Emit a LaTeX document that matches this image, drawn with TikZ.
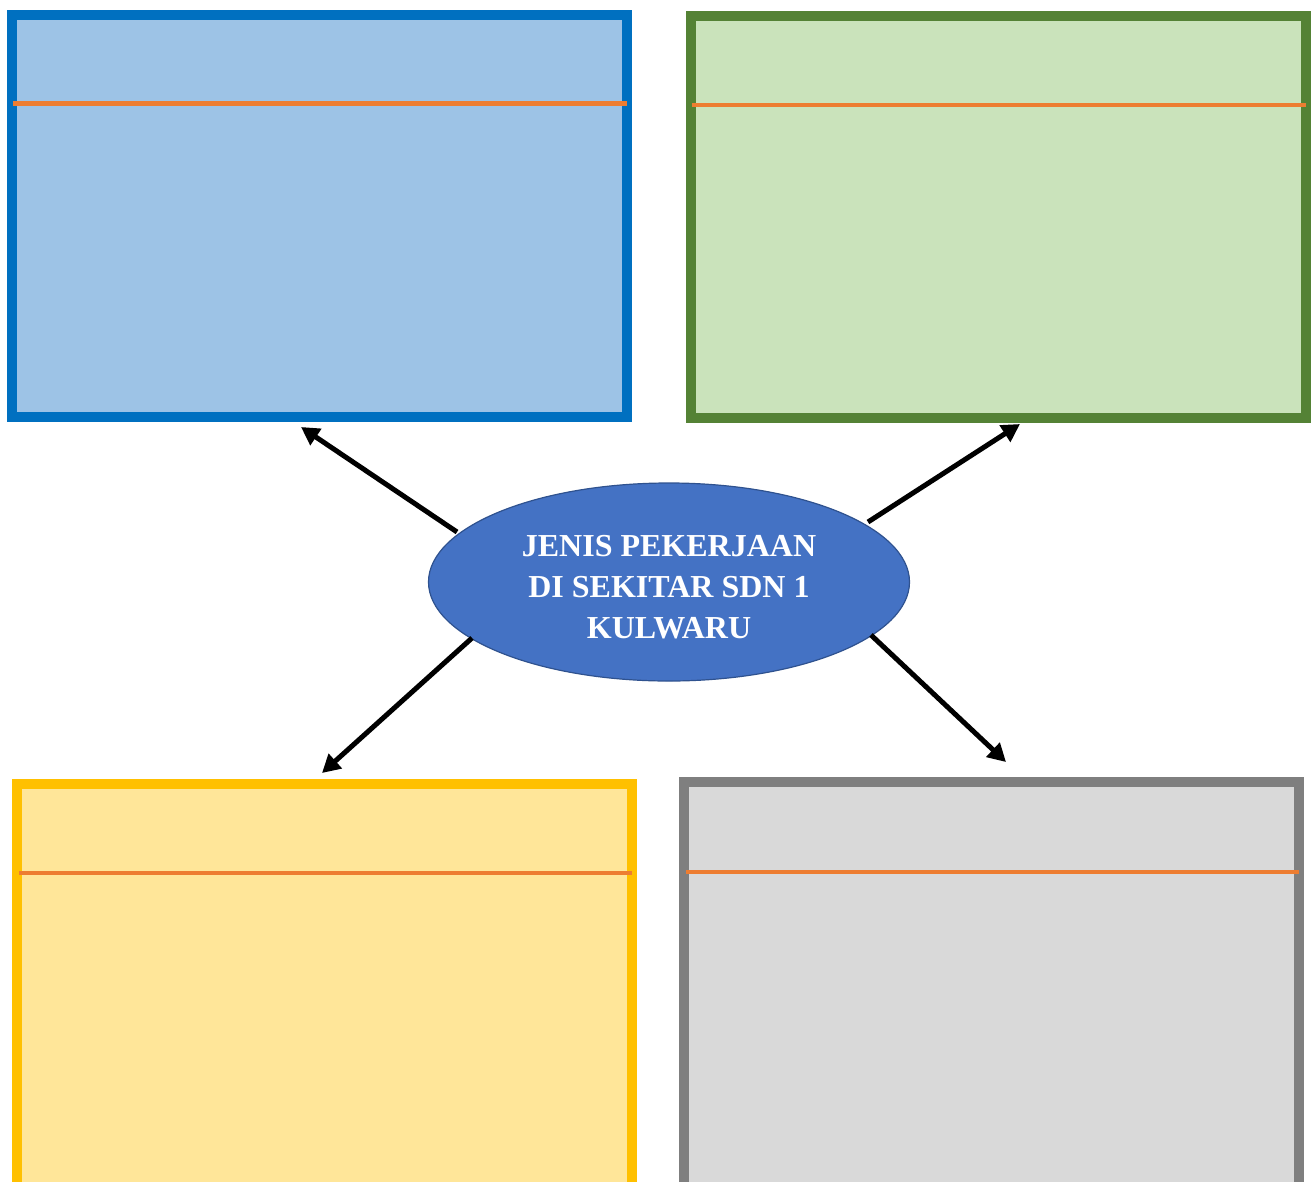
\documentclass[tikz,border=0pt]{standalone}
\usepackage{fontspec}
\setmainfont{Liberation Serif}
\usetikzlibrary{arrows.meta,shapes.geometric}
\definecolor{bluefill}{HTML}{9DC3E6}
\definecolor{blueline}{HTML}{0070C0}
\definecolor{greenfill}{HTML}{CAE3BB}
\definecolor{greenline}{HTML}{548235}
\definecolor{yellowfill}{HTML}{FFE699}
\definecolor{yellowline}{HTML}{FFC000}
\definecolor{grayfill}{HTML}{D9D9D9}
\definecolor{grayline}{HTML}{7F7F7F}
\definecolor{orangeline}{HTML}{ED7D31}
\definecolor{ellfill}{HTML}{4472C4}
\definecolor{ellline}{HTML}{2F528F}
\tikzset{
  panel/.style={line width=10pt},
  divider/.style={draw=orangeline, line width=4.5pt},
  link/.style={draw=black, line width=5pt, -{Triangle[length=18pt,width=19pt]}},
}
\begin{document}
\begin{tikzpicture}[x=1pt,y=-1pt]
\useasboundingbox (0,0) rectangle (1311,1181);
\clip (0,0) rectangle (1311,1181);
% top-left panel
\draw[panel, draw=blueline, fill=bluefill] (12,15) rectangle (627,417);
\coordinate (d1a) at (13,103.5); \coordinate (d1b) at (627,103.5);
\draw[divider] (d1a) -- (d1b);
% top-right panel
\draw[panel, draw=greenline, fill=greenfill] (691,16) rectangle (1306,418);
\coordinate (d2a) at (692,105); \coordinate (d2b) at (1306,105);
\draw[divider] (d2a) -- (d2b);
% bottom-left panel
\draw[panel, draw=yellowline, fill=yellowfill] (17,784) rectangle (632,1210);
\coordinate (d3a) at (19,873); \coordinate (d3b) at (632,873);
\draw[divider] (d3a) -- (d3b);
% bottom-right panel
\draw[panel, draw=grayline, fill=grayfill] (684,782) rectangle (1299,1210);
\coordinate (d4a) at (686,872); \coordinate (d4b) at (1299,872);
\draw[divider] (d4a) -- (d4b);
% centre ellipse
\node (ell) [ellipse, draw=ellline, line width=1.2pt, fill=ellfill,
  minimum width=481pt, minimum height=198pt, inner sep=0pt] at (669,582) {};
\node (title) [text=white, font=\fontsize{32}{41}\selectfont\bfseries, align=center] at (669,587)
  {JENIS PEKERJAAN\\DI SEKITAR SDN 1\\KULWARU};
% connectors
\coordinate (t1) at (457,532); \coordinate (h1) at (301,427);
\coordinate (t2) at (868,522); \coordinate (h2) at (1020,424);
\coordinate (t3) at (472,638); \coordinate (h3) at (322,773);
\coordinate (t4) at (871,635); \coordinate (h4) at (1006,762);
\draw[link] (t1) -- (h1);
\draw[link] (t2) -- (h2);
\draw[link] (t3) -- (h3);
\draw[link] (t4) -- (h4);
\end{tikzpicture}
\end{document}
